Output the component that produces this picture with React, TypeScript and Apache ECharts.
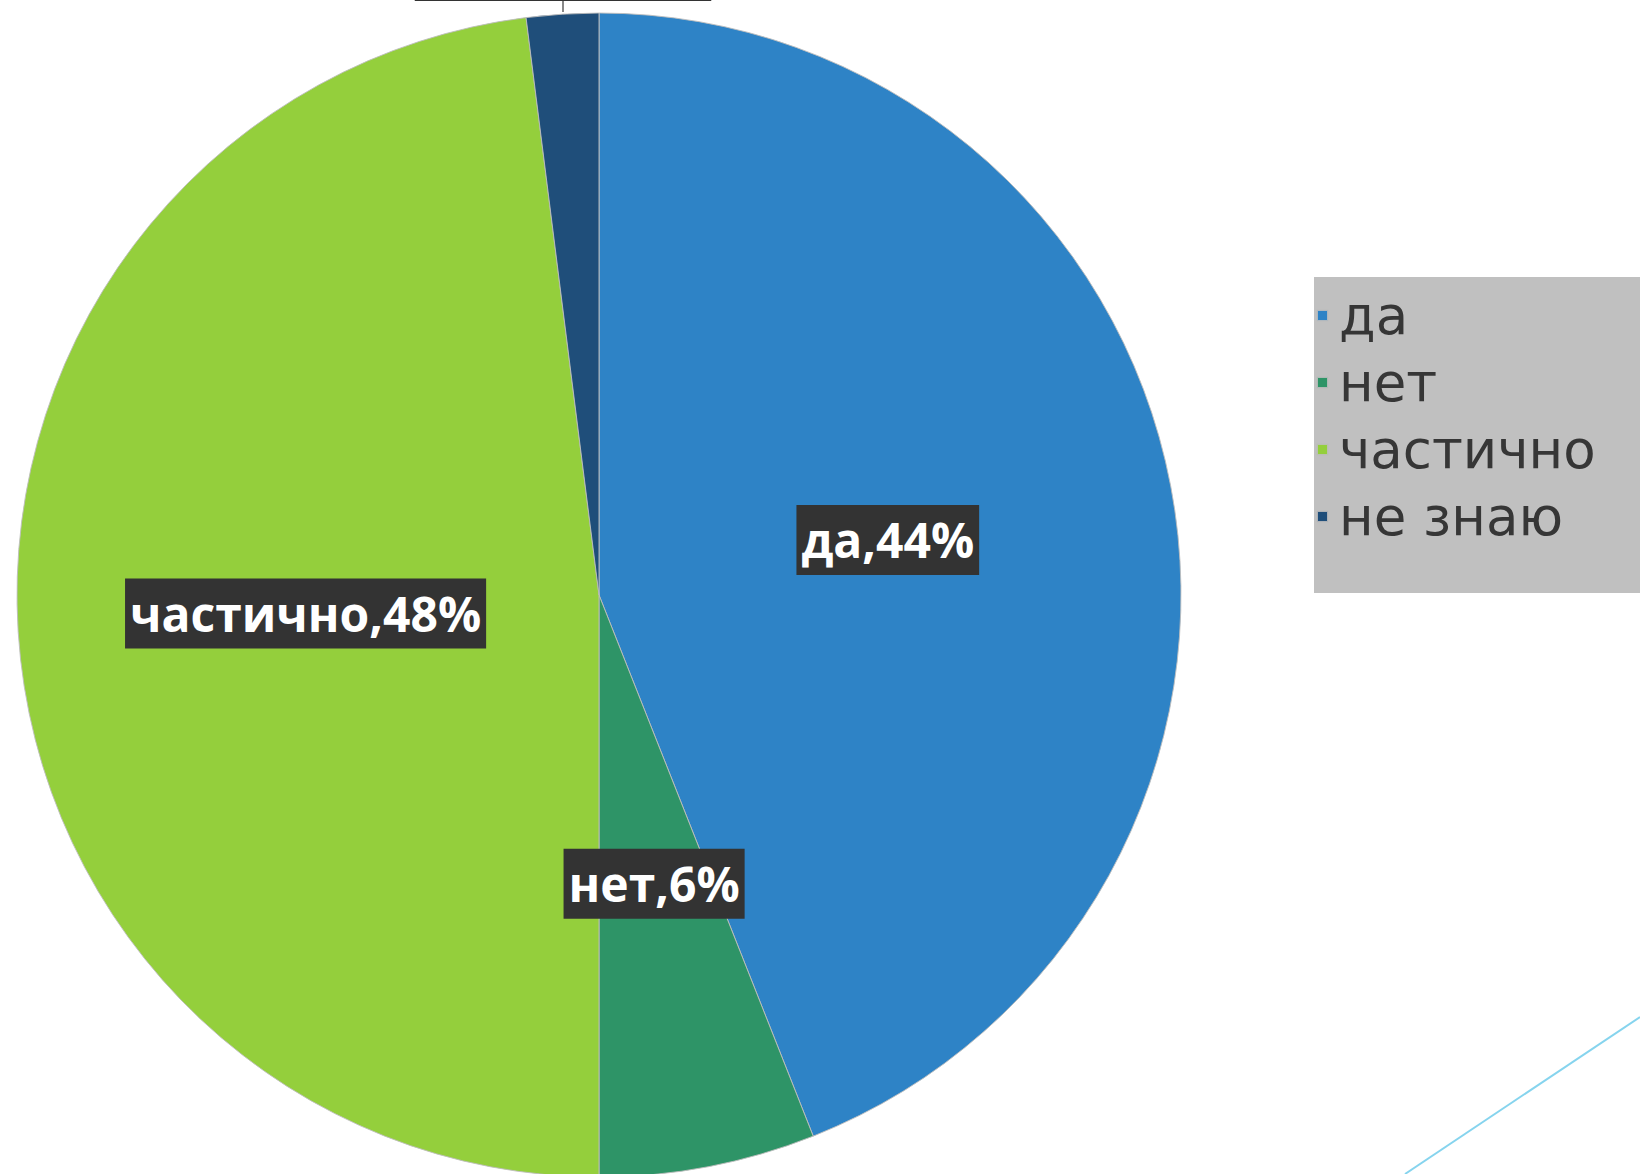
import React, { useEffect, useRef } from "react";
import * as echarts from "echarts";

const categories = ["да", "нет", "частично", "не знаю"];
const values = [44, 6, 48, 2];
const colors = ["#2e83c6", "#2e9467", "#94cf3c", "#1f4e7a"];

export default function App() {
  const ref = useRef<HTMLDivElement>(null);
  useEffect(() => {
    if (!ref.current) return;
    const chart = echarts.init(ref.current, null, { renderer: "svg" });
    chart.setOption({
      animation: false,
      backgroundColor: "#ffffff",
      legend: {
        orient: "vertical",
        left: 1314,
        top: 277,
        padding: [12, 200, 50, 2],
        itemGap: 14,
        itemWidth: 11,
        itemHeight: 11,
        icon: "rect",
        backgroundColor: "#c0c0c0",
        data: categories,
        textStyle: {
          fontFamily: "DejaVu Sans",
          fontSize: 53,
          color: "#363636",
          padding: [0, 0, 0, 6],
        },
      },
      series: [
        {
          type: "pie",
          center: [599, 595],
          radius: 582,
          startAngle: 90,
          clockwise: true,
          data: categories.map((c, i) => ({
            name: c,
            value: values[i],
            itemStyle: { color: colors[i] },
            label:
              i === 3
                ? { position: "outside" }
                : { position: "inside" },
            labelLine: { show: i === 3, length: 2, length2: 2, lineStyle: { color: "#888", width: 2 } },
          })),
          itemStyle: { borderColor: "rgba(190,190,190,0.9)", borderWidth: 1 },
          label: {
            formatter: "{b},{c}%",
            fontFamily: "Open Sans",
            fontWeight: "bold",
            fontSize: 48,
            color: "#ffffff",
            backgroundColor: "#333333",
            padding: [11, 5, 11, 5],
          },
          labelLayout: (params: any) => {
            if (params.dataIndex === 3) {
              return {
                x: 563,
                y: -34,
                align: "center",
                verticalAlign: "middle",
                labelLinePoints: [
                  [563, 12],
                  [563, 6],
                  [563, 1],
                ],
              };
            }
            return {};
          },
        },
      ],
      graphic: [
        {
          type: "line",
          shape: { x1: 1405, y1: 1174, x2: 1640, y2: 1017 },
          style: { stroke: "#86d4ee", lineWidth: 2 },
        },
      ],
    });
    return () => chart.dispose();
  }, []);
  return (
    <div
      ref={ref}
      style={{ position: "fixed", left: 0, top: 0, width: 1640, height: 1174 }}
    />
  );
}
